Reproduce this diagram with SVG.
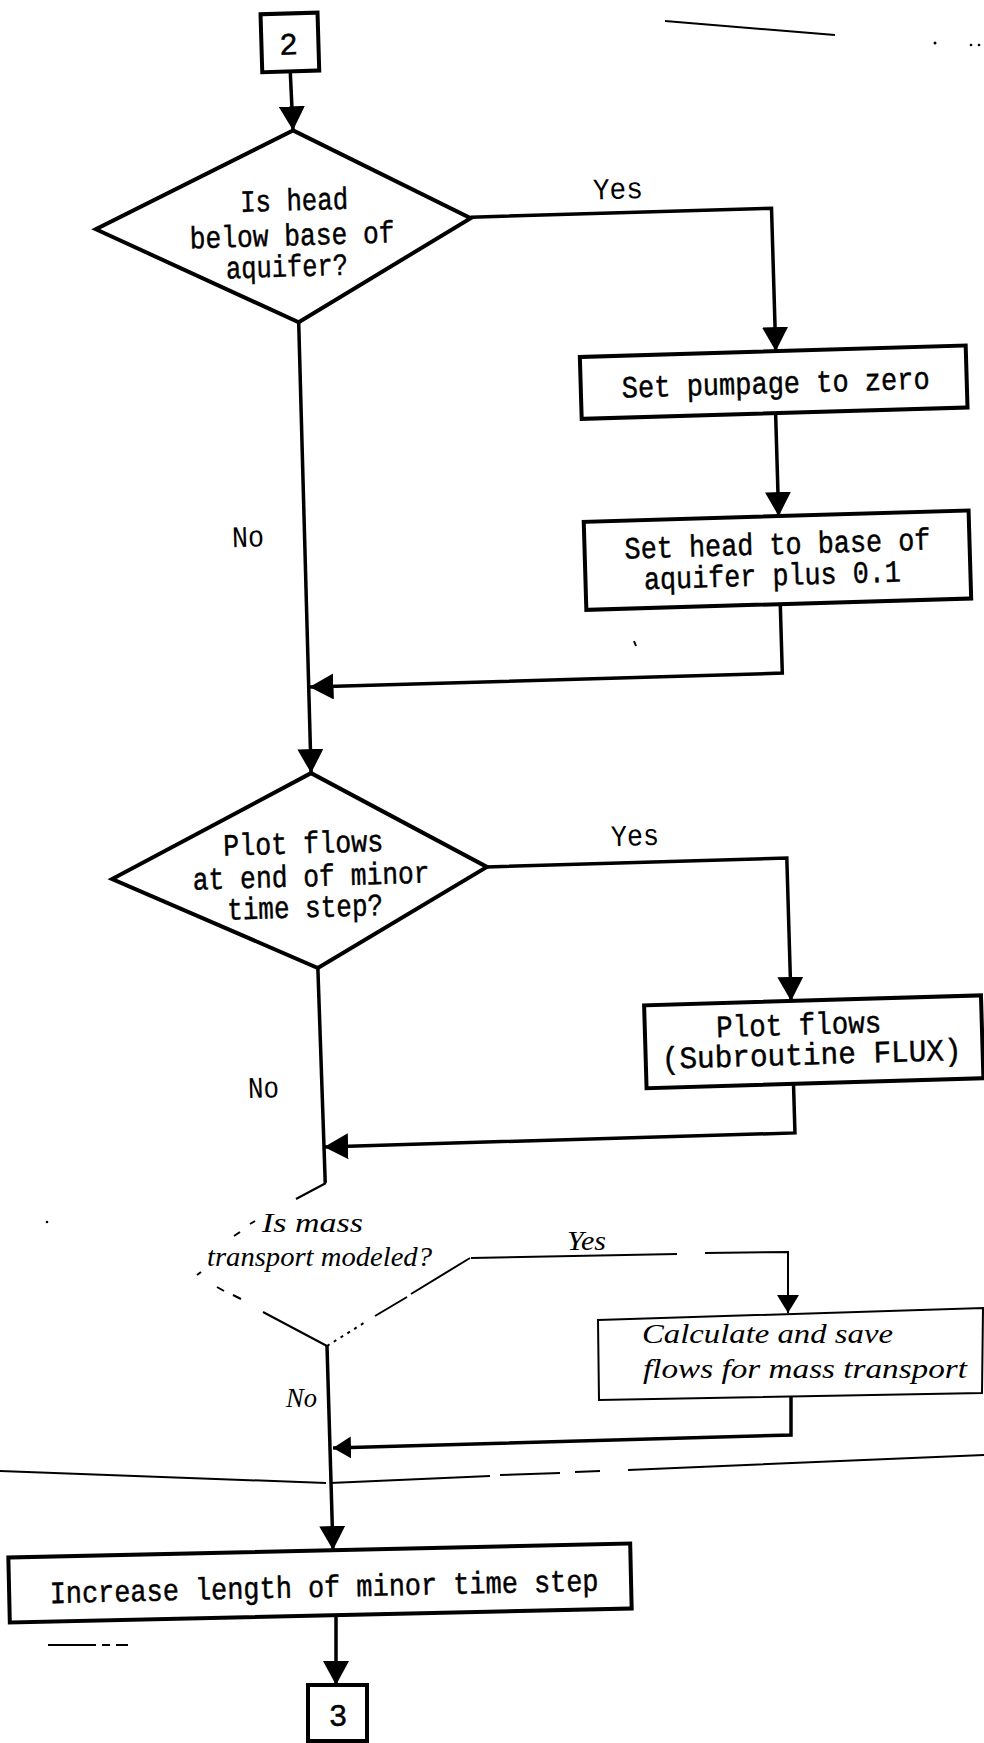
<svg xmlns="http://www.w3.org/2000/svg" width="984" height="1743" viewBox="0 0 984 1743">
<style>
.ln{fill:none;stroke:#000;stroke-width:3.5;stroke-linejoin:miter}
.bx{fill:#fff;stroke:#000;stroke-width:4}
.tt{font-family:"Liberation Mono","DejaVu Sans Mono",monospace;font-size:31px;fill:#000;text-anchor:middle;stroke:#000;stroke-width:0.45}
.lb{font-family:"Liberation Mono","DejaVu Sans Mono",monospace;font-size:30px;fill:#000;text-anchor:middle}
.hw{font-family:"Liberation Serif","DejaVu Serif",serif;font-style:italic;font-size:27px;fill:#000}
.hl{fill:none;stroke:#000;stroke-width:2}
.st{fill:none;stroke:#000;stroke-width:2}
</style>
<defs>
<marker id="ah" viewBox="0 0 24 26" refX="24" refY="13" markerWidth="24" markerHeight="26" markerUnits="userSpaceOnUse" orient="auto"><path d="M0,0 L24,13 L0,26 Z" fill="#000"/></marker>
<marker id="ahs" viewBox="0 0 18 22" refX="18" refY="11" markerWidth="18" markerHeight="22" markerUnits="userSpaceOnUse" orient="auto"><path d="M0,0 L18,11 L0,22 Z" fill="#000"/></marker>
</defs>
<rect width="984" height="1743" fill="#fff"/>

<g id="connectors">
  <g transform="rotate(-1.7)">
    <path class="ln" d="M288,80 L289,139" marker-end="url(#ah)"/>
    <path class="ln" d="M464,231 L765,231 L765,374" marker-end="url(#ah)"/>
    <path class="ln" d="M763,436 L763,539" marker-end="url(#ah)"/>
    <path class="ln" d="M762,627 L762,696 L289,696" marker-end="url(#ah)"/>
    <path class="ln" d="M289,331 L288,782" marker-end="url(#ah)"/>
    <path class="ln" d="M461,881 L761,881 L761,1024" marker-end="url(#ah)"/>
    <path class="ln" d="M761,1107 L761,1156 L290,1156" marker-end="url(#ah)"/>
    <path class="ln" d="M289,977 L290,1192"/>
  </g>
  <path class="hl" d="M471,1258 L677,1254"/>
  <path class="hl" d="M705,1253 L788,1252 L788,1313" marker-end="url(#ahs)"/>
  <path class="ln" stroke-width="3" d="M791,1397 L791,1435 L333,1448" marker-end="url(#ahs)"/>
  <path class="ln" d="M327,1346 L333,1550" marker-end="url(#ah)"/>
  <path class="ln" d="M336,1616 L336,1685" marker-end="url(#ah)"/>
</g>

<g id="n-start" transform="rotate(-1.7)">
  <rect class="bx" x="260" y="22" width="57" height="58"/>
  <text class="tt" x="287" y="63">2</text>
</g>

<g id="n-dec1" transform="rotate(-1.7)">
  <polygon class="bx" points="289,139 464,232 289,331 89,232"/>
  <text class="tt" x="288" y="219" textLength="108" lengthAdjust="spacingAndGlyphs">Is head</text>
  <text class="tt" x="285" y="254" textLength="205" lengthAdjust="spacingAndGlyphs">below base of</text>
  <text class="tt" x="279" y="285" textLength="122" lengthAdjust="spacingAndGlyphs">aquifer?</text>
</g>

<g id="n-pump" transform="rotate(-1.7)">
  <rect class="bx" x="569" y="374" width="386" height="62"/>
  <text class="tt" x="764" y="416" textLength="308" lengthAdjust="spacingAndGlyphs">Set pumpage to zero</text>
</g>

<g id="n-sethead" transform="rotate(-1.7)">
  <rect class="bx" x="568" y="539" width="385" height="88"/>
  <text class="tt" x="761" y="577" textLength="306" lengthAdjust="spacingAndGlyphs">Set head to base of</text>
  <text class="tt" x="755" y="608" textLength="257" lengthAdjust="spacingAndGlyphs">aquifer plus 0.1</text>
</g>

<g id="n-dec2" transform="rotate(-1.7)">
  <polygon class="bx" points="288,782 461,881 289,977 86,882"/>
  <text class="tt" x="278" y="862" textLength="160" lengthAdjust="spacingAndGlyphs">Plot flows</text>
  <text class="tt" x="285" y="895" textLength="237" lengthAdjust="spacingAndGlyphs">at end of minor</text>
  <text class="tt" x="278" y="926" textLength="156" lengthAdjust="spacingAndGlyphs">time step?</text>
</g>

<g id="n-plot" transform="rotate(-1.7)">
  <rect class="bx" x="614" y="1024" width="337" height="83"/>
  <text class="tt" x="768" y="1058" textLength="165" lengthAdjust="spacingAndGlyphs">Plot flows</text>
  <text class="tt" x="780" y="1088" textLength="300" lengthAdjust="spacingAndGlyphs">(Subroutine FLUX)</text>
</g>

<g id="labels" transform="rotate(-1.7)">
  <text class="lb" x="612" y="217" textLength="50" lengthAdjust="spacingAndGlyphs">Yes</text>
  <text class="lb" x="232" y="554" textLength="32" lengthAdjust="spacingAndGlyphs">No</text>
  <text class="lb" x="610" y="864" textLength="48" lengthAdjust="spacingAndGlyphs">Yes</text>
  <text class="lb" x="231" y="1105" textLength="31" lengthAdjust="spacingAndGlyphs">No</text>
</g>

<g id="n-dec3">
  <path class="hl" d="M326,1183 L296,1199"/>
  <path class="hl" d="M240,1232 L234,1236 M201,1272 L197,1275"/>
  <path class="hl" d="M217,1287 L224,1291 M233,1295 L241,1299 M263,1312 L327,1346"/>
  <path class="hl" stroke-dasharray="3 5" d="M327,1346 L367,1321"/>
  <path class="hl" d="M375,1316 L407,1297 M411,1294 L470,1258"/>
  <path class="hl" d="M250,1224 L255,1221"/>
  <text class="hw" x="262" y="1232" textLength="101" lengthAdjust="spacingAndGlyphs">Is mass</text>
  <text class="hw" x="207" y="1266" textLength="225" lengthAdjust="spacingAndGlyphs">transport modeled?</text>
</g>

<g id="n-calc">
  <polygon class="hl" stroke-width="2.5" fill="#fff" points="598,1320 983,1308 982,1393 599,1400"/>
  <text class="hw" x="642" y="1343" textLength="251" lengthAdjust="spacingAndGlyphs">Calculate and save</text>
  <text class="hw" x="643" y="1378" textLength="324" lengthAdjust="spacingAndGlyphs">flows for mass transport</text>
</g>

<g id="hw-labels">
  <text class="hw" x="567" y="1250" textLength="39" lengthAdjust="spacingAndGlyphs">Yes</text>
  <text class="hw" x="286" y="1407" textLength="31" lengthAdjust="spacingAndGlyphs">No</text>
</g>

<g id="n-increase" transform="rotate(-1.3 320 1583)">
  <rect class="bx" x="9" y="1550.5" width="622" height="65"/>
  <text class="tt" x="324" y="1597" textLength="549" lengthAdjust="spacingAndGlyphs">Increase length of minor time step</text>
</g>

<g id="n-end">
  <rect class="bx" x="308" y="1685" width="59" height="56"/>
  <text class="tt" x="338" y="1726">3</text>
</g>

<g id="marks">
  <path class="st" d="M665,21 L835,35"/>
  <circle cx="935" cy="43" r="1.5"/>
  <circle cx="971" cy="45" r="1.3"/>
  <circle cx="979" cy="45" r="1.3"/>
  <path class="st" d="M634,641 L636,646"/>
  <circle cx="47" cy="1222" r="1.3"/>
  <path class="st" d="M0,1471 L326,1483 M330,1483 L490,1476 M500,1475 L560,1473 M575,1472 L600,1471 M628,1470 L984,1455"/>
  <path class="st" d="M48,1645 L96,1645 M102,1645 L110,1645 M116,1645 L128,1645"/>
</g>
</svg>
